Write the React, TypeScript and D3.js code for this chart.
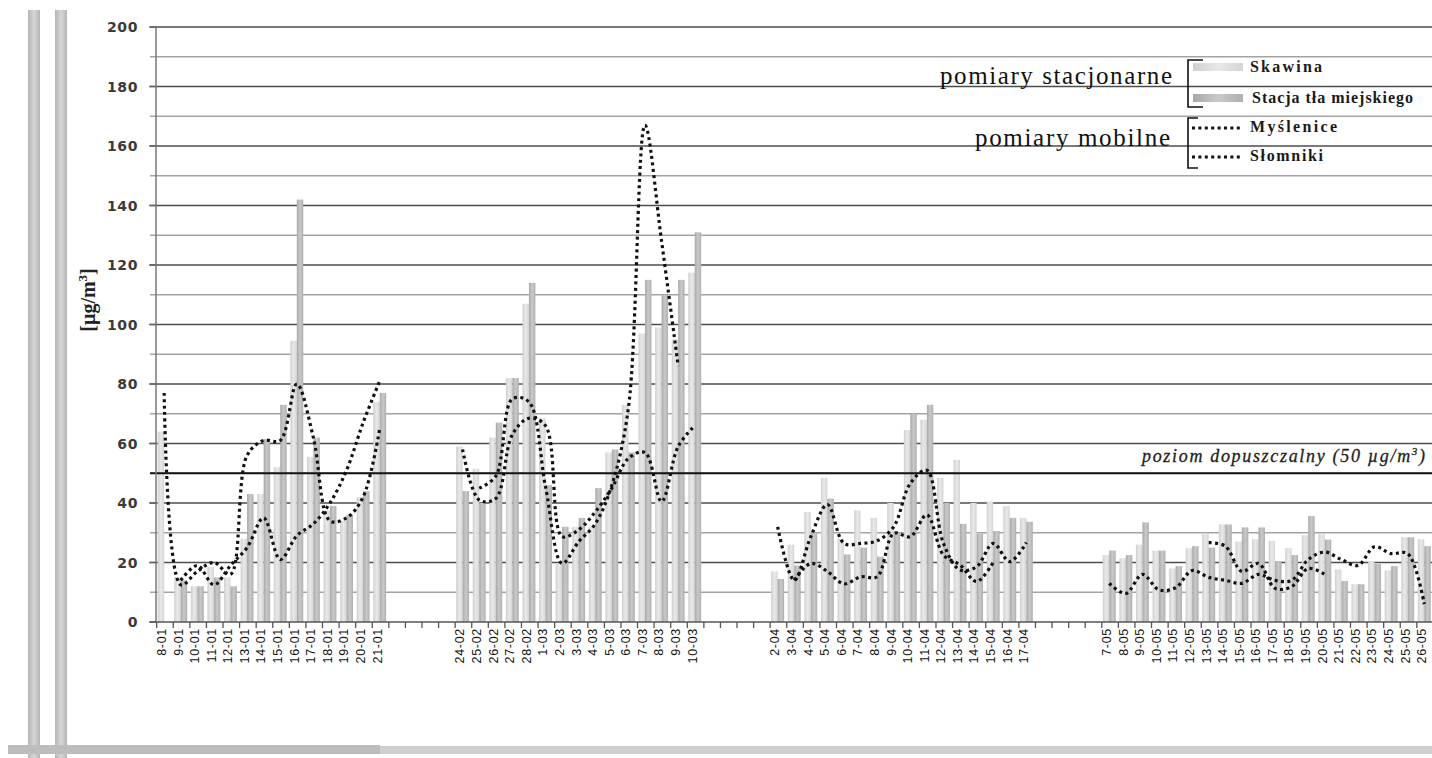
import React from 'react';
import * as d3 from 'd3';

const N = null;

const categories: string[] = [
  '8-01','9-01','10-01','11-01','12-01','13-01','14-01','15-01','16-01','17-01','18-01','19-01','20-01','21-01',
  '','','','',
  '24-02','25-02','26-02','27-02','28-02','1-03','2-03','3-03','4-03','5-03','6-03','7-03','8-03','9-03','10-03',
  '','','','',
  '2-04','3-04','4-04','5-04','6-04','7-04','8-04','9-04','10-04','11-04','12-04','13-04','14-04','15-04','16-04','17-04',
  '','','','',
  '7-05','8-05','9-05','10-05','11-05','12-05','13-05','14-05','15-05','16-05','17-05','18-05','19-05','20-05','21-05','22-05','23-05','24-05','25-05','26-05',
];

const skawina: (number | null)[] = [
  64, 15, 12, 18.5, 15, 28, 43, 52, 94.5, 55.5, 37.5, 34, 42, 74,
  N, N, N, N,
  59, 51.5, 62, 82, 107, 68.5, 19.5, 32, 32, 57, 73, 97, 99, 95, 117.5,
  N, N, N, N,
  17, 26, 37, 48.5, 28, 37.5, 35, 40, 64.5, 68, 48.5, 54.5, 40, 40.5, 39, 35,
  N, N, N, N,
  22.5, 21.4, 26, 24, 18, 24.8, 29.7, 32.8, 27, 27.8, 27.3, 24.8, 29.2, 29.5, 17.7, 12.7, 20.5, 17.3, 28.5, 27.8,
];

const stacja: (number | null)[] = [
  N, 14, 12, 15, 12, 43, 61.5, 73, 142, 62, 39, 36, 44, 77,
  N, N, N, N,
  44, 40, 67, 82, 114, 46, 32, 35, 45, 58, 57, 115, 110, 115, 131,
  N, N, N, N,
  14.5, 19, 30, 41.5, 22.7, 25, 22, 30, 70, 73, 40, 33, 29.6, 30.6, 35, 33.7,
  N, N, N, N,
  24, 22.5, 33.5, 24, 18.8, 25.5, 25, 32.8, 31.8, 31.8, 20.5, 22.5, 35.6, 27.7, 13.8, 12.7, 19.5, 18.8, 28.5, 25.5,
];

const myslenice: (number | null)[] = [
  77, 12.5, 17, 20, 16, 56, 61, 61, 80, 62, 34, 35, 42, 65,
  N, N, N, N,
  58, 41, 41.5, 63, 68.5, 66, 28.7, 31, 37, 45, 55, 57, 40.5, 59, 66,
  N, N, N, N,
  32, 14, 28.7, 39.5, 26.4, 26.4, 27.3, 32, 46.6, 51, 26.4, 17.5, 18.6, 26.4, 20.3, 26.7,
  N, N, N, N,
  13, 9.6, 16, 10.8, 11.5, 17.3, 15, 14, 13, 16, 14, 14, 21, 23.5, 21, 19, 25.3, 23, 23, 6,
];

const slomniki: (number | null)[] = [
  N, 14, 19, 12.5, 19, 25, 35, 21, 29, 33, 40, 51, 67, 81,
  N, N, N, N,
  N, 45, 49, 75, 74, 45.5, 19.7, 27, 33, 46, 72, 167, 128, 86, N,
  N, N, N, N,
  N, 14, 19.7, 17, 12.8, 15.2, 15.2, 29.8, 28.7, 36, 22.5, 19.2, 13.6, 20, N, N,
  N, N, N, N,
  N, N, N, N, N, N, 26.7, 25.5, 17, 19.7, 11.3, 11.9, 18, 16, N, N, N, N, N, N,
];

const yTicks = [0, 20, 40, 60, 80, 100, 120, 140, 160, 180, 200];
const gridValues = d3.range(10, 201, 10);
const limitValue = 50;
const limitLabel = 'poziom dopuszczalny (50 µg/m';

const W = 1432;
const H = 758;

export default function App() {
  const x = d3
    .scaleBand<number>()
    .domain(d3.range(categories.length))
    .range([156.7, 1433.4])
    .paddingInner(0)
    .paddingOuter(0);
  const bw = x.bandwidth();
  const inner = d3.scaleBand<string>().domain(['s', 't']).range([bw * 0.06, bw * 0.84]);
  const y = d3.scaleLinear().domain([0, 200]).range([622, 27]);

  const line = d3
    .line<number | null>()
    .defined((d) => d != null)
    .x((_, i) => (x(i) as number) + bw * 0.45)
    .y((d) => y(d as number))
    .curve(d3.curveCatmullRom.alpha(0.5));

  const serif = '"Liberation Serif", "DejaVu Serif", serif';
  const sans = '"DejaVu Sans", sans-serif';
  const dotted = { stroke: '#111', strokeWidth: 3.2, strokeDasharray: '3 3.4', fill: 'none' };

  return (
    <svg
      width={W}
      height={H}
      style={{ position: 'absolute', left: 0, top: 0, background: '#fff' }}
    >
      <defs>
        <linearGradient id="gS" x1="0" x2="1" y1="0" y2="0">
          <stop offset="0" stopColor="#cfcfcf" />
          <stop offset="0.5" stopColor="#e9e9e9" />
          <stop offset="1" stopColor="#d4d4d4" />
        </linearGradient>
        <linearGradient id="gT" x1="0" x2="1" y1="0" y2="0">
          <stop offset="0" stopColor="#a8a8a8" />
          <stop offset="0.5" stopColor="#c9c9c9" />
          <stop offset="1" stopColor="#b0b0b0" />
        </linearGradient>
        <linearGradient id="gBar" x1="0" x2="1" y1="0" y2="0">
          <stop offset="0" stopColor="#b5b5b5" />
          <stop offset="0.5" stopColor="#d6d6d6" />
          <stop offset="1" stopColor="#b5b5b5" />
        </linearGradient>
      </defs>
      <rect x={0} y={0} width={W} height={H} fill="#fff" />

      {/* page decorations */}
      <rect x={28} y={10} width={12} height={H - 10} fill="url(#gBar)" />
      <rect x={55} y={10} width={12} height={H - 10} fill="url(#gBar)" />
      <rect x={8} y={745} width={372} height={9} fill="#bdbdbd" />
      <rect x={380} y={746} width={W - 380} height={8} fill="#cfcfcf" />

      {/* gridlines */}
      {gridValues.map((v) => (
        <line
          key={'g' + v}
          x1={150}
          x2={W}
          y1={y(v)}
          y2={y(v)}
          stroke={v % 20 === 0 ? '#4d4d4d' : '#a3a3a3'}
          strokeWidth={1.6}
        />
      ))}

      {/* bars */}
      {categories.map((c, i) => {
        const x0 = x(i) as number;
        const s = skawina[i];
        const t = stacja[i];
        return (
          <g key={'b' + i}>
            {s != null && (
              <rect
                x={x0 + (inner('s') as number)}
                y={y(s)}
                width={inner.bandwidth()}
                height={y(0) - y(s)}
                fill="url(#gS)"
              />
            )}
            {t != null && (
              <rect
                x={x0 + (inner('t') as number)}
                y={y(t)}
                width={inner.bandwidth()}
                height={y(0) - y(t)}
                fill="url(#gT)"
              />
            )}
          </g>
        );
      })}

      {/* limit line */}
      <line x1={150} x2={W} y1={y(limitValue)} y2={y(limitValue)} stroke="#111" strokeWidth={2.2} />
      <text
        x={1142}
        y={y(limitValue) - 11}
        fontFamily={serif}
        fontStyle="italic"
        fontSize={18}
        fill="#222"
        stroke="#222"
        strokeWidth={0.3}
        textLength={283}
        lengthAdjust="spacing"
      >
        {limitLabel}
        <tspan dy={-7} fontSize={11}>3</tspan>
        <tspan dy={7}>)</tspan>
      </text>

      {/* lines */}
      <path d={line(myslenice) || ''} {...dotted} />
      <path d={line(slomniki) || ''} {...dotted} />

      {/* y axis */}
      <line x1={156} x2={156} y1={y(200)} y2={y(0)} stroke="#777" strokeWidth={1.5} />
      {yTicks.map((v) => (
        <g key={'yt' + v}>
          <line x1={149} x2={156} y1={y(v)} y2={y(v)} stroke="#666" strokeWidth={1.4} />
          <text
            x={138}
            y={y(v)}
            dy="0.36em"
            textAnchor="end"
            fontFamily={sans}
            fontSize={14}
            fontWeight="bold"
            letterSpacing={0.6}
            fill="#3a3a3a"
          >
            {v}
          </text>
        </g>
      ))}
      <text
        transform="translate(95,300) rotate(-90)"
        textAnchor="middle"
        fontFamily={serif}
        fontWeight="bold"
        fontSize={20}
        fill="#222"
      >
        [µg/m<tspan dy={-8} fontSize={13}>3</tspan>
        <tspan dy={8}>]</tspan>
      </text>

      {/* x axis */}
      <line x1={150} x2={W} y1={y(0)} y2={y(0)} stroke="#555" strokeWidth={1.5} />
      {d3.range(categories.length + 1).map((i) => {
        const xx = i < categories.length ? (x(i) as number) : (x(categories.length - 1) as number) + bw;
        return <line key={'xt' + i} x1={xx} x2={xx} y1={y(0)} y2={y(0) + 6} stroke="#555" strokeWidth={1.3} />;
      })}
      {categories.map((c, i) =>
        c ? (
          <text
            key={'xl' + i}
            transform={`translate(${(x(i) as number) + bw * 0.32},628) rotate(-90)`}
            textAnchor="end"
            dominantBaseline="central"
            fontFamily='"Liberation Sans", Arial, sans-serif'
            fontSize={12.5}
            letterSpacing={0.7}
            fill="#111"
          >
            {c}
          </text>
        ) : null
      )}

      {/* legend */}
      <text x={940} y={84} fontFamily={serif} fontSize={25} fill="#111" textLength={232} lengthAdjust="spacing">
        pomiary stacjonarne
      </text>
      <text x={975} y={146} fontFamily={serif} fontSize={25} fill="#111" textLength={195} lengthAdjust="spacing">
        pomiary mobilne
      </text>
      <path d="M1203,60 H1188 V107 H1203" fill="none" stroke="#111" strokeWidth={1.6} />
      <path d="M1198,118 H1188 V168 H1198" fill="none" stroke="#111" strokeWidth={1.6} />
      <rect x={1193} y={63} width={50} height={8} fill="url(#gS)" />
      <rect x={1193} y={94} width={50} height={8} fill="url(#gT)" />
      <line x1={1192} x2={1243} y1={128} y2={128} {...dotted} />
      <line x1={1192} x2={1243} y1={157} y2={157} {...dotted} />
      <text x={1250} y={72} fontFamily={serif} fontSize={16} fontWeight="bold" fill="#1a1a1a" textLength={72} lengthAdjust="spacing">
        Skawina
      </text>
      <text x={1252} y={103} fontFamily={serif} fontSize={16} fontWeight="bold" fill="#1a1a1a" textLength={161} lengthAdjust="spacing">
        Stacja tła miejskiego
      </text>
      <text x={1250} y={132} fontFamily={serif} fontSize={16} fontWeight="bold" fill="#1a1a1a" textLength={87} lengthAdjust="spacing">
        Myślenice
      </text>
      <text x={1250} y={161} fontFamily={serif} fontSize={16} fontWeight="bold" fill="#1a1a1a" textLength={73} lengthAdjust="spacing">
        Słomniki
      </text>
    </svg>
  );
}
